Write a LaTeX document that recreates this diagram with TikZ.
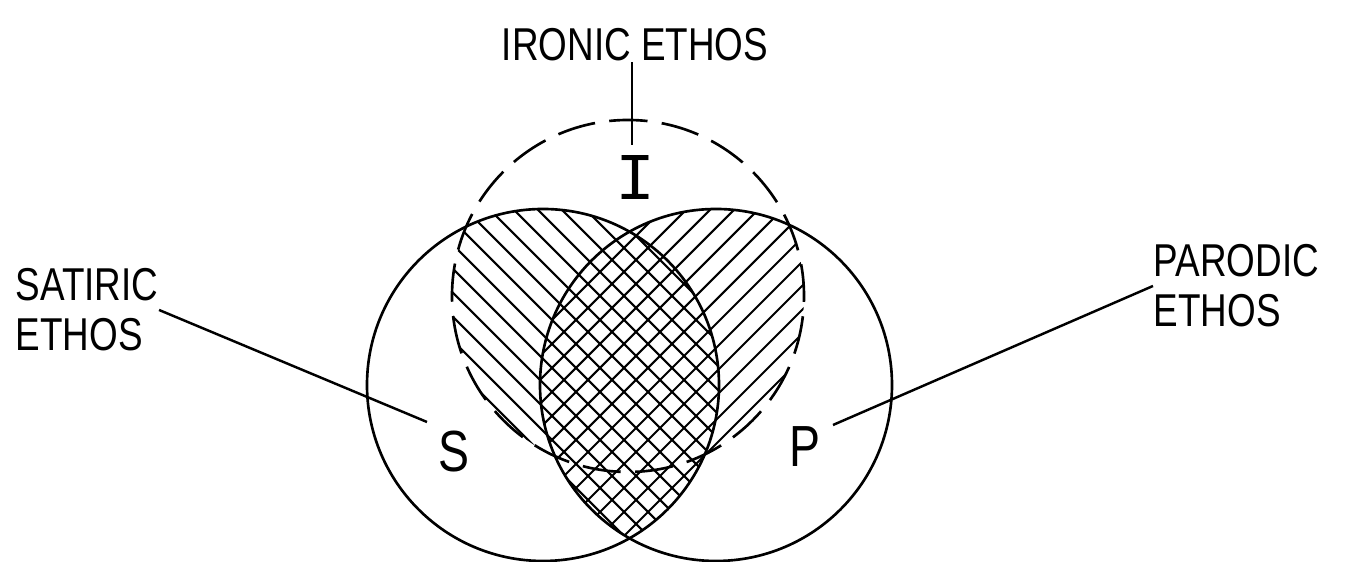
\documentclass[tikz,border=0pt]{standalone}
\usepackage{fontspec}
\setmainfont{Liberation Sans}[FakeStretch=0.8]
\setmonofont{Liberation Mono}

\begin{document}
\begin{tikzpicture}[
    x=0.01cm, y=-0.01cm,
    ring/.style={draw=black, line width=0.75pt},
    ironring/.style={draw=black, line width=0.75pt,
                     dash pattern=on 10.9pt off 4.083pt, dash phase=9.2pt},
    hatch/.style={black, line width=0.6pt},
    leader/.style={-, black, line width=0.7pt},
    lbl/.style={font=\fontsize{13.1}{14.2}\selectfont, align=left, inner sep=0pt},
    letter/.style={font=\fontsize{16.5}{18}\selectfont, inner sep=0pt},
]

\useasboundingbox (0,0) rectangle (1357,562);

% === Three ethos circles ===

% circle radius
\def\rad{176}

\coordinate (cS) at (543,385);
\coordinate (cP) at (716,385);
\coordinate (cI) at (628,296);

% --- Ironic and satiric overlap (single hatch) ---
\begin{scope}
    \clip (cI) circle (\rad);
    \clip (cS) circle (\rad);
    \foreach \c in {-200,-176,...,720} {
        \draw[hatch] ({\c+100},100) -- ({\c+600},600);
    }
\end{scope}

% --- Ironic and parodic overlap (single hatch) ---
\begin{scope}
    \clip (cI) circle (\rad);
    \clip (cP) circle (\rad);
    \foreach \c in {560,584,...,1424} {
        \draw[hatch] ({\c-100},100) -- ({\c-600},600);
    }
\end{scope}

% --- Satiric and parodic overlap (cross hatch) ---
\begin{scope}
    \clip (cS) circle (\rad);
    \clip (cP) circle (\rad);
    \fill[white] (0,0) rectangle (1357,562);
    \foreach \c in {-200,-176,...,720} {
        \draw[hatch] ({\c+100},100) -- ({\c+600},600);
    }
    \foreach \c in {560,584,...,1424} {
        \draw[hatch] ({\c-100},100) -- ({\c-600},600);
    }
\end{scope}

% --- Outlines ---
\draw[ring] (cS) circle (\rad);
\draw[ring] (cP) circle (\rad);
\draw[ironring] (cI) circle (\rad);

% --- Letters ---
\node[letter] (S) at (454,452) {S};
\node[letter] (P) at (805,447) {P};
\node[letter, font=\ttfamily\fontsize{19}{20}\selectfont] (I) at (636,178) {I};

% --- Labels ---
\node[lbl, anchor=north] (irolbl) at (635,28) {IRONIC ETHOS};
\node[lbl, anchor=north west] (satlbl) at (15,268) {SATIRIC\\ETHOS};
\node[lbl, anchor=north west] (parlbl) at (1153,244) {PARODIC\\ETHOS};

% --- Leaders ---
\coordinate (iroend) at (632,145);
\coordinate (satend) at (427,422);
\coordinate (parend) at (833,425);
\draw[leader] (irolbl.south -| iroend) -- (iroend);
\draw[leader] (satlbl.east) -- (satend);
\draw[leader] (parlbl.west) -- (parend);

\end{tikzpicture}
\end{document}
